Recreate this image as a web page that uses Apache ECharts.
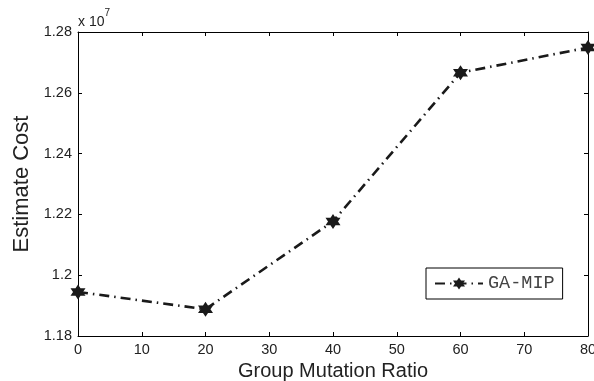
<!DOCTYPE html>
<html><head><meta charset="utf-8">
<script src="https://cdn.jsdelivr.net/npm/echarts@6/dist/echarts.min.js"></script>
<style>html,body{margin:0;padding:0;background:#fff}#c{width:594px;height:381px}</style>
</head><body><div id="c"></div>
<script>
const categories = [0, 20, 40, 60, 80];
const gaMip = [11945000, 11888000, 12177000, 12666000, 12749000];
const xTicks = [0, 10, 20, 30, 40, 50, 60, 70, 80];
const yTicks = [1.18, 1.2, 1.22, 1.24, 1.26, 1.28];
const yScale = 1e7;

const hexagram = 'path://M0,-10L8.66,5L-8.66,5Z M0,10L-8.66,-5L8.66,-5Z';
const font = 'Liberation Sans, Arial, sans-serif';
const chart = echarts.init(document.getElementById('c'), null, {renderer: 'canvas'});
const axisCommon = {
  axisLine: {show: true, onZero: false, lineStyle: {color: '#000', width: 1}},
  axisTick: {show: true, inside: true, length: 4, lineStyle: {color: '#000'}},
  splitLine: {show: false}
};
chart.setOption({
  animation: false,
  backgroundColor: '#fff',
  grid: {left: 78, right: 6, top: 32, bottom: 45, containLabel: false, outerBoundsMode: 'none'},
  legend: {
    data: ['GA-MIP'], left: 426, top: 268, width: 136, height: 29,
    borderColor: '#000', borderWidth: 1, padding: [6, 8, 6, 8],
    itemWidth: 48, itemHeight: 15, itemGap: 10,
    textStyle: {fontFamily: 'Liberation Mono, Courier New, monospace', fontSize: 18.5, color: '#444'}
  },
  xAxis: [
    Object.assign({}, axisCommon, {
      type: 'value', min: 0, max: 80, interval: 10, position: 'bottom',
      name: 'Group Mutation Ratio', nameLocation: 'middle', nameGap: 22,
      nameTextStyle: {fontFamily: font, fontSize: 20, color: '#222'},
      axisLabel: {fontFamily: font, fontSize: 14.5, color: '#222', margin: 6,
        formatter: v => xTicks.includes(v) ? String(v) : ''}
    }),
    Object.assign({}, axisCommon, {
      type: 'value', min: 0, max: 80, interval: 10, position: 'top',
      axisLabel: {show: false}
    })
  ],
  yAxis: [
    Object.assign({}, axisCommon, {
      type: 'value', min: 11800000, max: 12800000, interval: 200000, position: 'left',
      name: 'Estimate Cost', nameLocation: 'middle', nameGap: 42,
      nameTextStyle: {fontFamily: font, fontSize: 22, color: '#222'},
      axisLabel: {fontFamily: font, fontSize: 14.5, color: '#222', margin: 6,
        formatter: v => String(parseFloat((v / yScale).toFixed(2)))}
    }),
    Object.assign({}, axisCommon, {
      type: 'value', min: 11800000, max: 12800000, interval: 200000, position: 'right',
      axisLabel: {show: false}
    })
  ],
  graphic: [{
    type: 'text', left: 78, top: 8,
    style: {
      text: '{a|x 10}{b|7}',
      rich: {
        a: {fontFamily: font, fontSize: 14, fill: '#222', padding: [7, 0, 0, 0]},
        b: {fontFamily: font, fontSize: 10, fill: '#222', verticalAlign: 'top', padding: [0, 0, 7, 0]}
      }
    }
  }],
  series: [{
    name: 'GA-MIP', type: 'line',
    data: categories.map((c, i) => [c, gaMip[i]]),
    symbol: hexagram, symbolSize: 15,
    itemStyle: {color: '#1a1a1a', borderColor: '#1a1a1a', borderWidth: 0},
    lineStyle: {color: '#1a1a1a', width: 2.6, type: [10, 5, 1.5, 5]}
  }]
});
</script></body></html>
